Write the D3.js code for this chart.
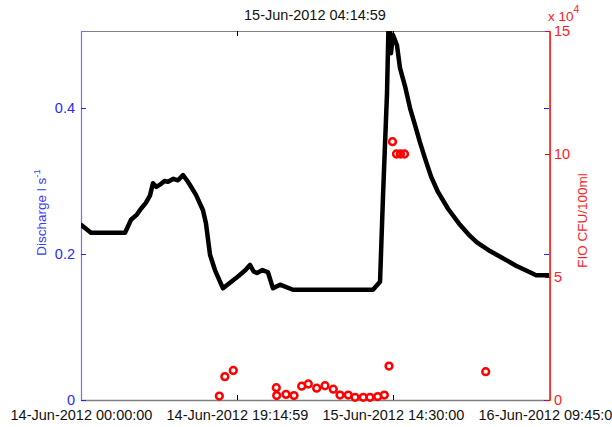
<!DOCTYPE html>
<html>
<head>
<meta charset="utf-8">
<script src="https://cdn.jsdelivr.net/npm/d3@7/dist/d3.min.js"></script>
<style>
  html, body { margin: 0; padding: 0; background: #fff; }
  svg { display: block; font-family: "Liberation Sans", Arial, sans-serif; }
</style>
</head>
<body>
<script>
// Discharge record: hours since 14-Jun-2012 00:00:00 and discharge (l/s)
const flowHours = [0, 1.23, 3.0, 5.43, 6.17, 6.9, 7.4, 8.0, 8.51, 8.88, 9.3, 9.75, 10.3, 10.74, 11.4, 11.97, 12.59, 13.2, 14.19, 15.05, 15.42, 15.92, 16.53, 17.52, 19.13, 20.3, 20.85, 21.3, 21.72, 22.4, 23.07, 23.69, 24.56, 26.16, 30.0, 33.0, 36.03, 36.9, 37.27, 37.76, 38.0, 38.25, 38.5, 38.99, 39.36, 39.98, 40.6, 41.21, 41.83, 42.45, 43.2, 44.05, 45.29, 46.77, 47.8, 48.86, 50.47, 51.95, 53.68, 55.4, 56.15, 57.75];
const flowValues = [0.240, 0.229, 0.229, 0.229, 0.247, 0.254, 0.262, 0.270, 0.280, 0.297, 0.292, 0.295, 0.300, 0.299, 0.303, 0.301, 0.308, 0.299, 0.281, 0.260, 0.242, 0.199, 0.178, 0.153, 0.167, 0.178, 0.185, 0.176, 0.174, 0.178, 0.175, 0.153, 0.158, 0.151, 0.151, 0.151, 0.151, 0.162, 0.280, 0.420, 0.540, 0.475, 0.500, 0.486, 0.455, 0.430, 0.400, 0.377, 0.353, 0.331, 0.306, 0.285, 0.262, 0.240, 0.227, 0.216, 0.204, 0.195, 0.184, 0.175, 0.171, 0.171];

// FIO samples: hours since 14-Jun-2012 00:00:00 and CFU/100ml
const fioHours = [17.07, 17.75, 18.79, 24.1, 24.15, 25.30, 26.28, 27.23, 28.05, 29.08, 30.11, 31.13, 31.96, 32.98, 33.81, 34.83, 35.66, 36.61, 37.43, 38.01, 38.44, 38.93, 39.42, 39.92, 49.94];
const fioValues = [1600, 9500, 12000, 5000, 1800, 2300, 1800, 5600, 6500, 4800, 5800, 4400, 2000, 2000, 1100, 1100, 1100, 1400, 2000, 13800, 105000, 100000, 100000, 100000, 11500];

// Axis ticks and labels
const xTickHours = [0, 19.25, 38.5, 57.75];
const xTickLabels = ["14-Jun-2012 00:00:00", "14-Jun-2012 19:14:59", "15-Jun-2012 14:30:00", "16-Jun-2012 09:45:00"];
const leftTicks = [0, 0.2, 0.4];
const rightTicks = [0, 5, 10, 15];
const titleText = "15-Jun-2012 04:14:59";

const start = new Date(2012, 5, 14, 0, 0, 0);
const toDate = h => new Date(start.getTime() + h * 3600000);

const W = 612, H = 427;
const m = { left: 81, top: 31, right: 63, bottom: 27 };
const pw = W - m.left - m.right, ph = H - m.top - m.bottom;

const svg = d3.select("body").append("svg").attr("width", W).attr("height", H);

const x = d3.scaleTime().domain([toDate(0), toDate(57.75)]).range([m.left, m.left + pw]);
const yL = d3.scaleLinear().domain([0, 0.5055]).range([m.top + ph, m.top]);
const yR = d3.scaleLinear().domain([0, 150000]).range([m.top + ph, m.top]);

svg.append("defs").append("clipPath").attr("id", "plotclip")
  .append("rect").attr("x", m.left).attr("y", m.top).attr("width", pw).attr("height", ph);

const fs = 14.5;

// Title
svg.append("text").attr("x", m.left + pw / 2).attr("y", 20)
  .attr("text-anchor", "middle").attr("font-size", fs).attr("fill", "#111")
  .text(titleText);

// Frame top / bottom
svg.append("line").attr("x1", m.left).attr("x2", m.left + pw).attr("y1", m.top + 0.5).attr("y2", m.top + 0.5)
  .attr("stroke", "#808080").attr("stroke-width", 1);
svg.append("line").attr("x1", m.left).attr("x2", m.left + pw).attr("y1", m.top + ph + 0.5).attr("y2", m.top + ph + 0.5)
  .attr("stroke", "#808080").attr("stroke-width", 1.5);

// X axis (bottom) with inward ticks
const xAxis = d3.axisBottom(x)
  .tickValues(xTickHours.map(toDate))
  .tickSize(-5).tickPadding(10)
  .tickFormat((d, i) => xTickLabels[i]);
const gx = svg.append("g").attr("transform", `translate(0,${m.top + ph})`).call(xAxis);
gx.select(".domain").remove();
gx.selectAll(".tick line").attr("stroke", "#000");
gx.selectAll(".tick text").attr("font-size", fs).attr("fill", "#111").attr("font-family", "Liberation Sans, Arial, sans-serif");
// top mirrored ticks
const gxt = svg.append("g").attr("transform", `translate(0,${m.top})`)
  .call(d3.axisTop(x).tickValues(xTickHours.map(toDate)).tickSize(-5).tickFormat(""));
gxt.select(".domain").remove();
gxt.selectAll(".tick line").attr("stroke", "#000");

// Left axis (blue)
const gl = svg.append("g").attr("transform", `translate(${m.left},0)`)
  .call(d3.axisLeft(yL).tickValues(leftTicks).tickSize(-5).tickPadding(6).tickFormat(d => d === 0 ? "0" : d3.format(".1f")(d)));
gl.select(".domain").attr("stroke", "#6f6fff").attr("stroke-width", 1.2);
gl.selectAll(".tick line").attr("stroke", "#2020ff");
gl.selectAll(".tick text").attr("font-size", fs).attr("fill", "#2a2aff").attr("font-family", "Liberation Sans, Arial, sans-serif");
// mirrored left ticks on the right edge
const glr = svg.append("g").attr("transform", `translate(${m.left + pw},0)`)
  .call(d3.axisRight(yL).tickValues(leftTicks).tickSize(-5).tickFormat(""));
glr.select(".domain").attr("stroke", "#6f6fff").attr("stroke-width", 1);
glr.selectAll(".tick line").attr("stroke", "#2020ff");

// Right axis (red)
const gr = svg.append("g").attr("transform", `translate(${m.left + pw + 1},0)`)
  .call(d3.axisRight(yR).tickValues(rightTicks.map(v => v * 1e4)).tickSize(-5).tickPadding(4).tickFormat(d => String(d / 1e4)));
gr.select(".domain").attr("stroke", "#ff3030").attr("stroke-width", 1);
gr.selectAll(".tick line").attr("stroke", "#ff0000");
gr.selectAll(".tick text").attr("font-size", fs).attr("fill", "#ff2020").attr("font-family", "Liberation Sans, Arial, sans-serif");

// Exponent label
const ex = svg.append("text").attr("x", 548).attr("y", 21).attr("font-size", 13.5).attr("fill", "#ff2020");
ex.append("tspan").text("x 10");
ex.append("tspan").attr("dy", -8).attr("font-size", 10.5).text("4");

// Axis titles
const ly = svg.append("text").attr("transform", `translate(46,${m.top + ph / 2 - 3}) rotate(-90)`)
  .attr("text-anchor", "middle").attr("font-size", 13.5).attr("fill", "#3a3aff");
ly.append("tspan").text("Discharge l s");
ly.append("tspan").attr("dy", -6).attr("font-size", 9.5).text("-1");

svg.append("text").attr("transform", `translate(587,${m.top + ph / 2 + 5}) rotate(-90)`)
  .attr("text-anchor", "middle").attr("font-size", 13.5).attr("fill", "#ff2020")
  .text("FIO CFU/100ml");

// Discharge line
const flow = flowHours.map((h, i) => ({ t: toDate(h), v: flowValues[i] }));
svg.append("path").datum(flow)
  .attr("clip-path", "url(#plotclip)")
  .attr("fill", "none").attr("stroke", "#000").attr("stroke-width", 4.5)
  .attr("stroke-linejoin", "round").attr("stroke-linecap", "round")
  .attr("d", d3.line().x(d => x(d.t)).y(d => yL(d.v)));

// FIO markers
const fio = fioHours.map((h, i) => ({ t: toDate(h), v: fioValues[i] }));
svg.append("g").selectAll("circle").data(fio).join("circle")
  .attr("cx", d => x(d.t)).attr("cy", d => yR(d.v)).attr("r", 3.4)
  .attr("fill", "none").attr("stroke", "#ff0000").attr("stroke-width", 2.5);
</script>
</body>
</html>
